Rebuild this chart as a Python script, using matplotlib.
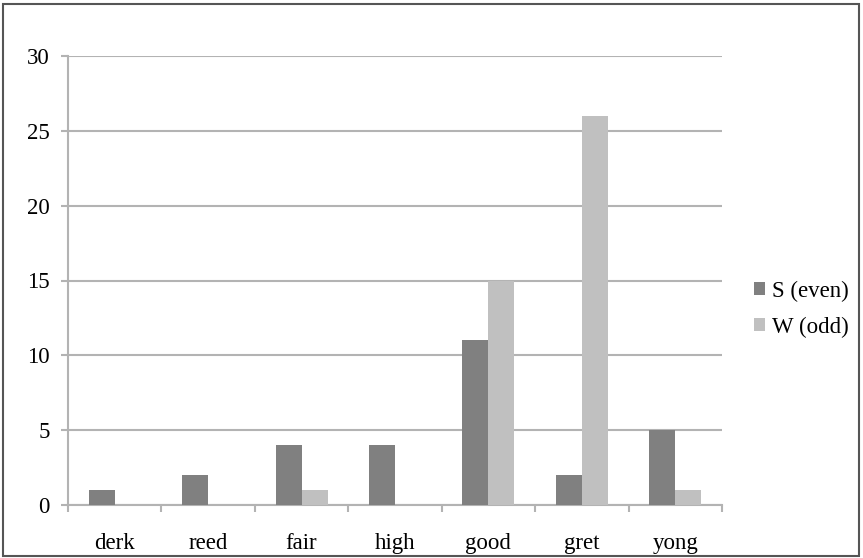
import matplotlib.pyplot as plt
from matplotlib.patches import Rectangle
import numpy as np

categories = ["derk", "reed", "fair", "high", "good", "gret", "yong"]
s_even = [1, 2, 4, 4, 11, 2, 5]
w_odd = [0, 0, 1, 0, 15, 26, 1]

plt.rcParams["font.family"] = ["Liberation Serif", "DejaVu Serif"]

fig = plt.figure(figsize=(8.63, 5.58), dpi=100)
ax = fig.add_axes([68 / 863, 1 - 505 / 558, (722 - 68) / 863, (505 - 56) / 558])

x = np.arange(len(categories))
width = 0.278
grid_color = "#b3b3b3"

ax.bar(x - width / 2, s_even, width, color="#808080", label="S (even)", zorder=3)
ax.bar(x + width / 2, w_odd, width, color="#c0c0c0", label="W (odd)", zorder=3)

ax.set_xlim(-0.5, len(categories) - 0.5)
ax.set_ylim(0, 30)
ax.set_yticks(range(0, 31, 5))
ax.yaxis.grid(True, color=grid_color, linewidth=1.5, zorder=0)

# category labels between boundary ticks
ax.set_xticks(np.arange(len(categories) + 1) - 0.5)
ax.set_xticklabels([])
ax.set_xticks(x, minor=True)
ax.set_xticklabels(categories, minor=True)
ax.tick_params(axis="x", which="minor", length=0, pad=20, labelsize=16.5)
ax.tick_params(axis="x", which="major", length=5, color=grid_color, width=1.5)
ax.tick_params(axis="y", length=5, color=grid_color, width=1.5, labelsize=16.5, pad=8)

for side in ["top", "right"]:
    ax.spines[side].set_visible(False)
for side in ["left", "bottom"]:
    ax.spines[side].set_color(grid_color)
    ax.spines[side].set_linewidth(1.5)

fig.legend(*ax.get_legend_handles_labels(), loc="center left",
           bbox_to_anchor=(754 / 863, 1 - 309 / 558), frameon=False,
           fontsize=16.5, handlelength=0.5, handleheight=0.5, handletextpad=0.3,
           labelspacing=0.65, borderpad=0, borderaxespad=0)

fig.patches.append(Rectangle((3 / 863, 2 / 558), 856 / 863, 552 / 558,
                             transform=fig.transFigure, fill=False,
                             edgecolor="#555555", linewidth=1.5))

fig.savefig("out.png", dpi=100)
